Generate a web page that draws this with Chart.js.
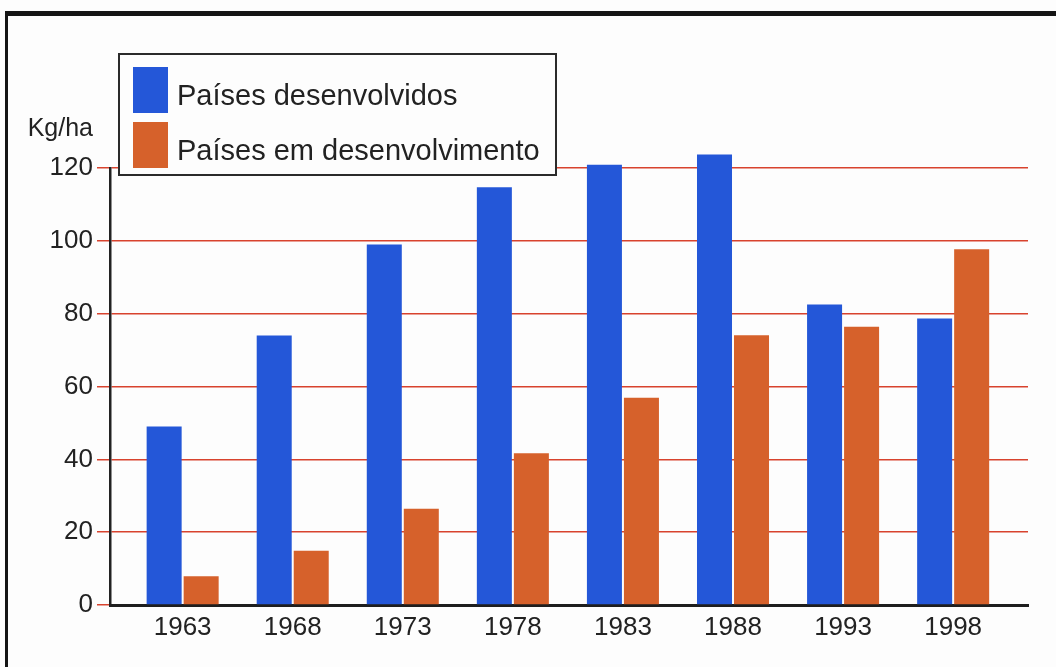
<!DOCTYPE html>
<html>
<head>
<meta charset="utf-8">
<title>Consumo de fertilizantes</title>
<script src="https://cdn.jsdelivr.net/npm/chart.js@4.4.1/dist/chart.umd.min.js"></script>
<style>
  html, body { margin: 0; padding: 0; background: #fdfdfd; }
  #wrap { width: 1056px; height: 667px; }
</style>
</head>
<body>
<div id="wrap"><canvas id="chart" width="1056" height="667"></canvas></div>
<script>
// values
var years = ["1963", "1968", "1973", "1978", "1983", "1988", "1993", "1998"];
var developed = [49, 74, 99, 114.7, 120.9, 123.7, 82.5, 78.7];
var developing = [7.9, 14.9, 26.4, 41.7, 56.9, 74.1, 76.4, 97.7];
var yTicks = [0, 20, 40, 60, 80, 100, 120];
var seriesNames = ["Países desenvolvidos", "Países em desenvolvimento"];
var unitLabel = "Kg/ha";

var FONT = '"Liberation Sans", Arial, Helvetica, sans-serif';
var TEXT = "#222";
var GRID_RED = "#d8432e";

Chart.defaults.font.family = FONT;
Chart.defaults.color = TEXT;

// x is a linear scale so the plot can run wider than the bar groups
function toPoints(values) {
  return values.map(function (v, i) { return { x: i, y: v }; });
}

var frame = {
  id: 'frame',
  beforeDraw: function (chart) {
    var ctx = chart.ctx;
    ctx.save();
    ctx.fillStyle = "#fdfdfd";
    ctx.fillRect(0, 0, chart.width, chart.height);
    ctx.restore();
  },
  afterDraw: function (chart) {
    var ctx = chart.ctx;
    ctx.save();
    ctx.fillStyle = "#151515";
    ctx.fillRect(5, 11, chart.width - 5, 5);
    ctx.fillRect(5, 11, 3, chart.height - 11);
    ctx.restore();
  }
};

// unit label sitting above the y axis numbers
var unitTitle = {
  id: 'unitTitle',
  afterDraw: function (chart) {
    var s = chart.scales.y;
    var ctx = chart.ctx;
    ctx.save();
    ctx.font = '25px ' + FONT;
    ctx.fillStyle = TEXT;
    ctx.textAlign = 'right';
    ctx.textBaseline = 'alphabetic';
    ctx.fillText(unitLabel, s.right - 17, s.top - 32);
    ctx.restore();
  }
};

// boxed legend overlapping the top of the plot
var boxLegend = {
  id: 'boxLegend',
  afterDraw: function (chart) {
    var ctx = chart.ctx;
    var x = 119, y = 54, w = 437, h = 121;
    ctx.save();
    ctx.fillStyle = "#fdfdfd";
    ctx.fillRect(x, y, w, h);
    ctx.strokeStyle = "#2b2b2b";
    ctx.lineWidth = 2;
    ctx.strokeRect(x, y, w, h);
    ctx.font = '29px ' + FONT;
    ctx.textBaseline = 'alphabetic';
    chart.data.datasets.forEach(function (ds, i) {
      var top = 67 + i * 55;
      ctx.fillStyle = ds.backgroundColor;
      ctx.fillRect(133, top, 35, 46);
      ctx.fillStyle = TEXT;
      ctx.fillText(ds.label, 177, top + 37.5);
    });
    ctx.restore();
  }
};

new Chart(document.getElementById("chart"), {
  type: 'bar',
  data: {
    datasets: [{
      label: seriesNames[0],
      data: toPoints(developed),
      backgroundColor: "#2457d8",
      clip: false
    }, {
      label: seriesNames[1],
      data: toPoints(developing),
      backgroundColor: "#d6612b",
      clip: false
    }]
  },
  options: {
    responsive: false,
    animation: false,
    categoryPercentage: 0.6725,
    barPercentage: 0.946,
    layout: { padding: { top: 168, right: 28, bottom: 0, left: 0 } },
    plugins: {
      legend: { display: false },
      tooltip: { enabled: false }
    },
    scales: {
      x: {
        type: 'linear',
        offset: false,
        min: -0.66,
        max: 7.68,
        z: 1,
        grid: { display: false, drawTicks: false },
        border: { display: true, color: "#1e1e1e", width: 3 },
        afterBuildTicks: function (axis) {
          axis.ticks = years.map(function (y, i) { return { value: i }; });
        },
        afterFit: function (axis) { axis.height = 62; },
        ticks: {
          maxRotation: 0,
          autoSkip: false,
          padding: 7,
          font: { size: 26 },
          color: TEXT,
          callback: function (v) { return years[v]; }
        }
      },
      y: {
        min: yTicks[0],
        max: yTicks[yTicks.length - 1],
        afterBuildTicks: function (axis) {
          axis.ticks = yTicks.map(function (v) { return { value: v }; });
        },
        afterFit: function (axis) { axis.width = 110; },
        grid: { color: GRID_RED, lineWidth: 1.5, tickLength: 13 },
        border: { display: true, color: "#222", width: 2.5 },
        ticks: { padding: 4, font: { size: 26 }, color: TEXT }
      }
    }
  },
  plugins: [frame, unitTitle, boxLegend]
});
</script>
</body>
</html>
